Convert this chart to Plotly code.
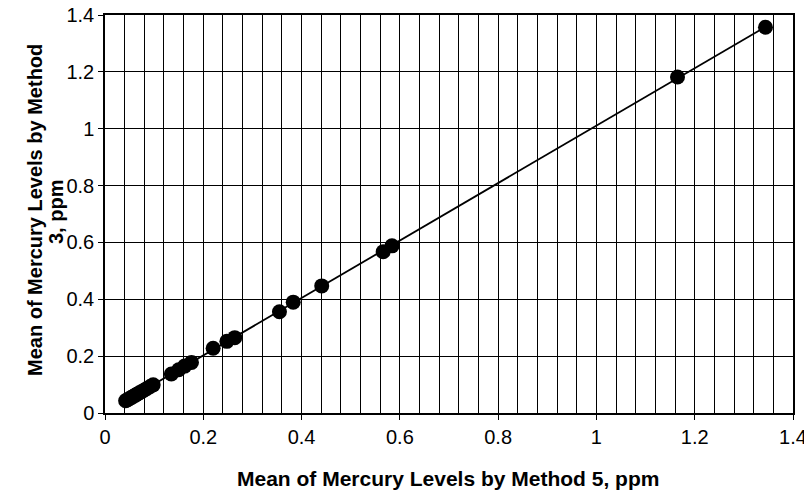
import numpy as np
import plotly.graph_objects as go

# Data (ppm)
method5 = [0.042, 0.046, 0.050, 0.054, 0.058, 0.062, 0.066, 0.070, 0.075, 0.080,
           0.086, 0.092, 0.098, 0.135, 0.150, 0.162, 0.176, 0.220, 0.248, 0.264,
           0.355, 0.383, 0.441, 0.566, 0.584, 1.165, 1.344]
method3 = [0.043, 0.047, 0.051, 0.055, 0.059, 0.063, 0.067, 0.071, 0.076, 0.081,
           0.087, 0.093, 0.099, 0.137, 0.152, 0.165, 0.178, 0.228, 0.252, 0.265,
           0.356, 0.390, 0.447, 0.567, 0.588, 1.182, 1.357]
x_ticks = [0, 0.2, 0.4, 0.6, 0.8, 1.0, 1.2, 1.4]
y_ticks = [0, 0.2, 0.4, 0.6, 0.8, 1.0, 1.2, 1.4]
x_title = "Mean of Mercury Levels by Method 5, ppm"
y_title_lines = ["Mean of Mercury Levels by Method", "3, ppm"]

# Linear trend line through the data
slope, intercept = np.polyfit(method5, method3, 1)
trend_x = [min(method5), max(method5)]
trend_y = [slope * v + intercept for v in trend_x]

FONT = "Liberation Sans, Arial, sans-serif"

fig = go.Figure()
fig.add_trace(go.Scatter(x=trend_x, y=trend_y, mode="lines",
                         line=dict(color="black", width=1.8), hoverinfo="skip"))
fig.add_trace(go.Scatter(x=method5, y=method3, mode="markers",
                         marker=dict(color="black", size=15, line=dict(width=0))))

# The page places the figure 8px in from the top-left corner (body margin),
# so all target screen positions are shifted by OFF.
OFF = 8
W, H = 812, 496
left, right, top, bottom = 105, 793, 15, 413   # target plot box on screen
ml, mt = left - OFF, top - OFF
mr, mb = W - (right - OFF), H - (bottom - OFF)

fig.update_layout(
    width=W, height=H,
    margin=dict(l=ml, r=mr, t=mt, b=mb, autoexpand=False),
    paper_bgcolor="white", plot_bgcolor="white",
    showlegend=False,
    font=dict(family=FONT, color="black", size=20),
    xaxis=dict(range=[0, 1.4], tickvals=x_ticks, ticks="outside", ticklen=5,
               tickcolor="black", showline=True, linecolor="black", linewidth=1.5,
               mirror=True, showgrid=True, gridcolor="black", gridwidth=1,
               zeroline=False, automargin=False, ticklabeloverflow="allow",
               minor=dict(dtick=0.04, tick0=0, showgrid=True, gridcolor="black",
                          gridwidth=1, ticks=""),
               tickfont=dict(size=20, family=FONT)),
    yaxis=dict(range=[0, 1.4], tickvals=y_ticks, ticks="outside", ticklen=5,
               tickcolor="black", showline=True, linecolor="black", linewidth=1.5,
               mirror=True, showgrid=True, gridcolor="black", gridwidth=1,
               zeroline=False, automargin=False, ticklabeloverflow="allow",
               tickfont=dict(size=20, family=FONT)),
)

def px_x(px):
    return (px - left) / (right - left)

def px_y(py):
    return (bottom - py) / (bottom - top)

fig.add_annotation(text="<b>" + x_title + "</b>", xref="paper", yref="paper",
                   x=px_x(448), y=px_y(478), xanchor="center", yanchor="middle",
                   showarrow=False, font=dict(size=21, family=FONT, color="black"))
fig.add_annotation(text="<b>" + y_title_lines[0] + "</b>", xref="paper", yref="paper",
                   x=px_x(35), y=px_y(210), xanchor="center", yanchor="middle",
                   showarrow=False, textangle=-90,
                   font=dict(size=20, family=FONT, color="black"))
fig.add_annotation(text="<b>" + y_title_lines[1] + "</b>", xref="paper", yref="paper",
                   x=px_x(56), y=px_y(212), xanchor="center", yanchor="middle",
                   showarrow=False, textangle=-90,
                   font=dict(size=20, family=FONT, color="black"))

fig.write_html("out.html")
